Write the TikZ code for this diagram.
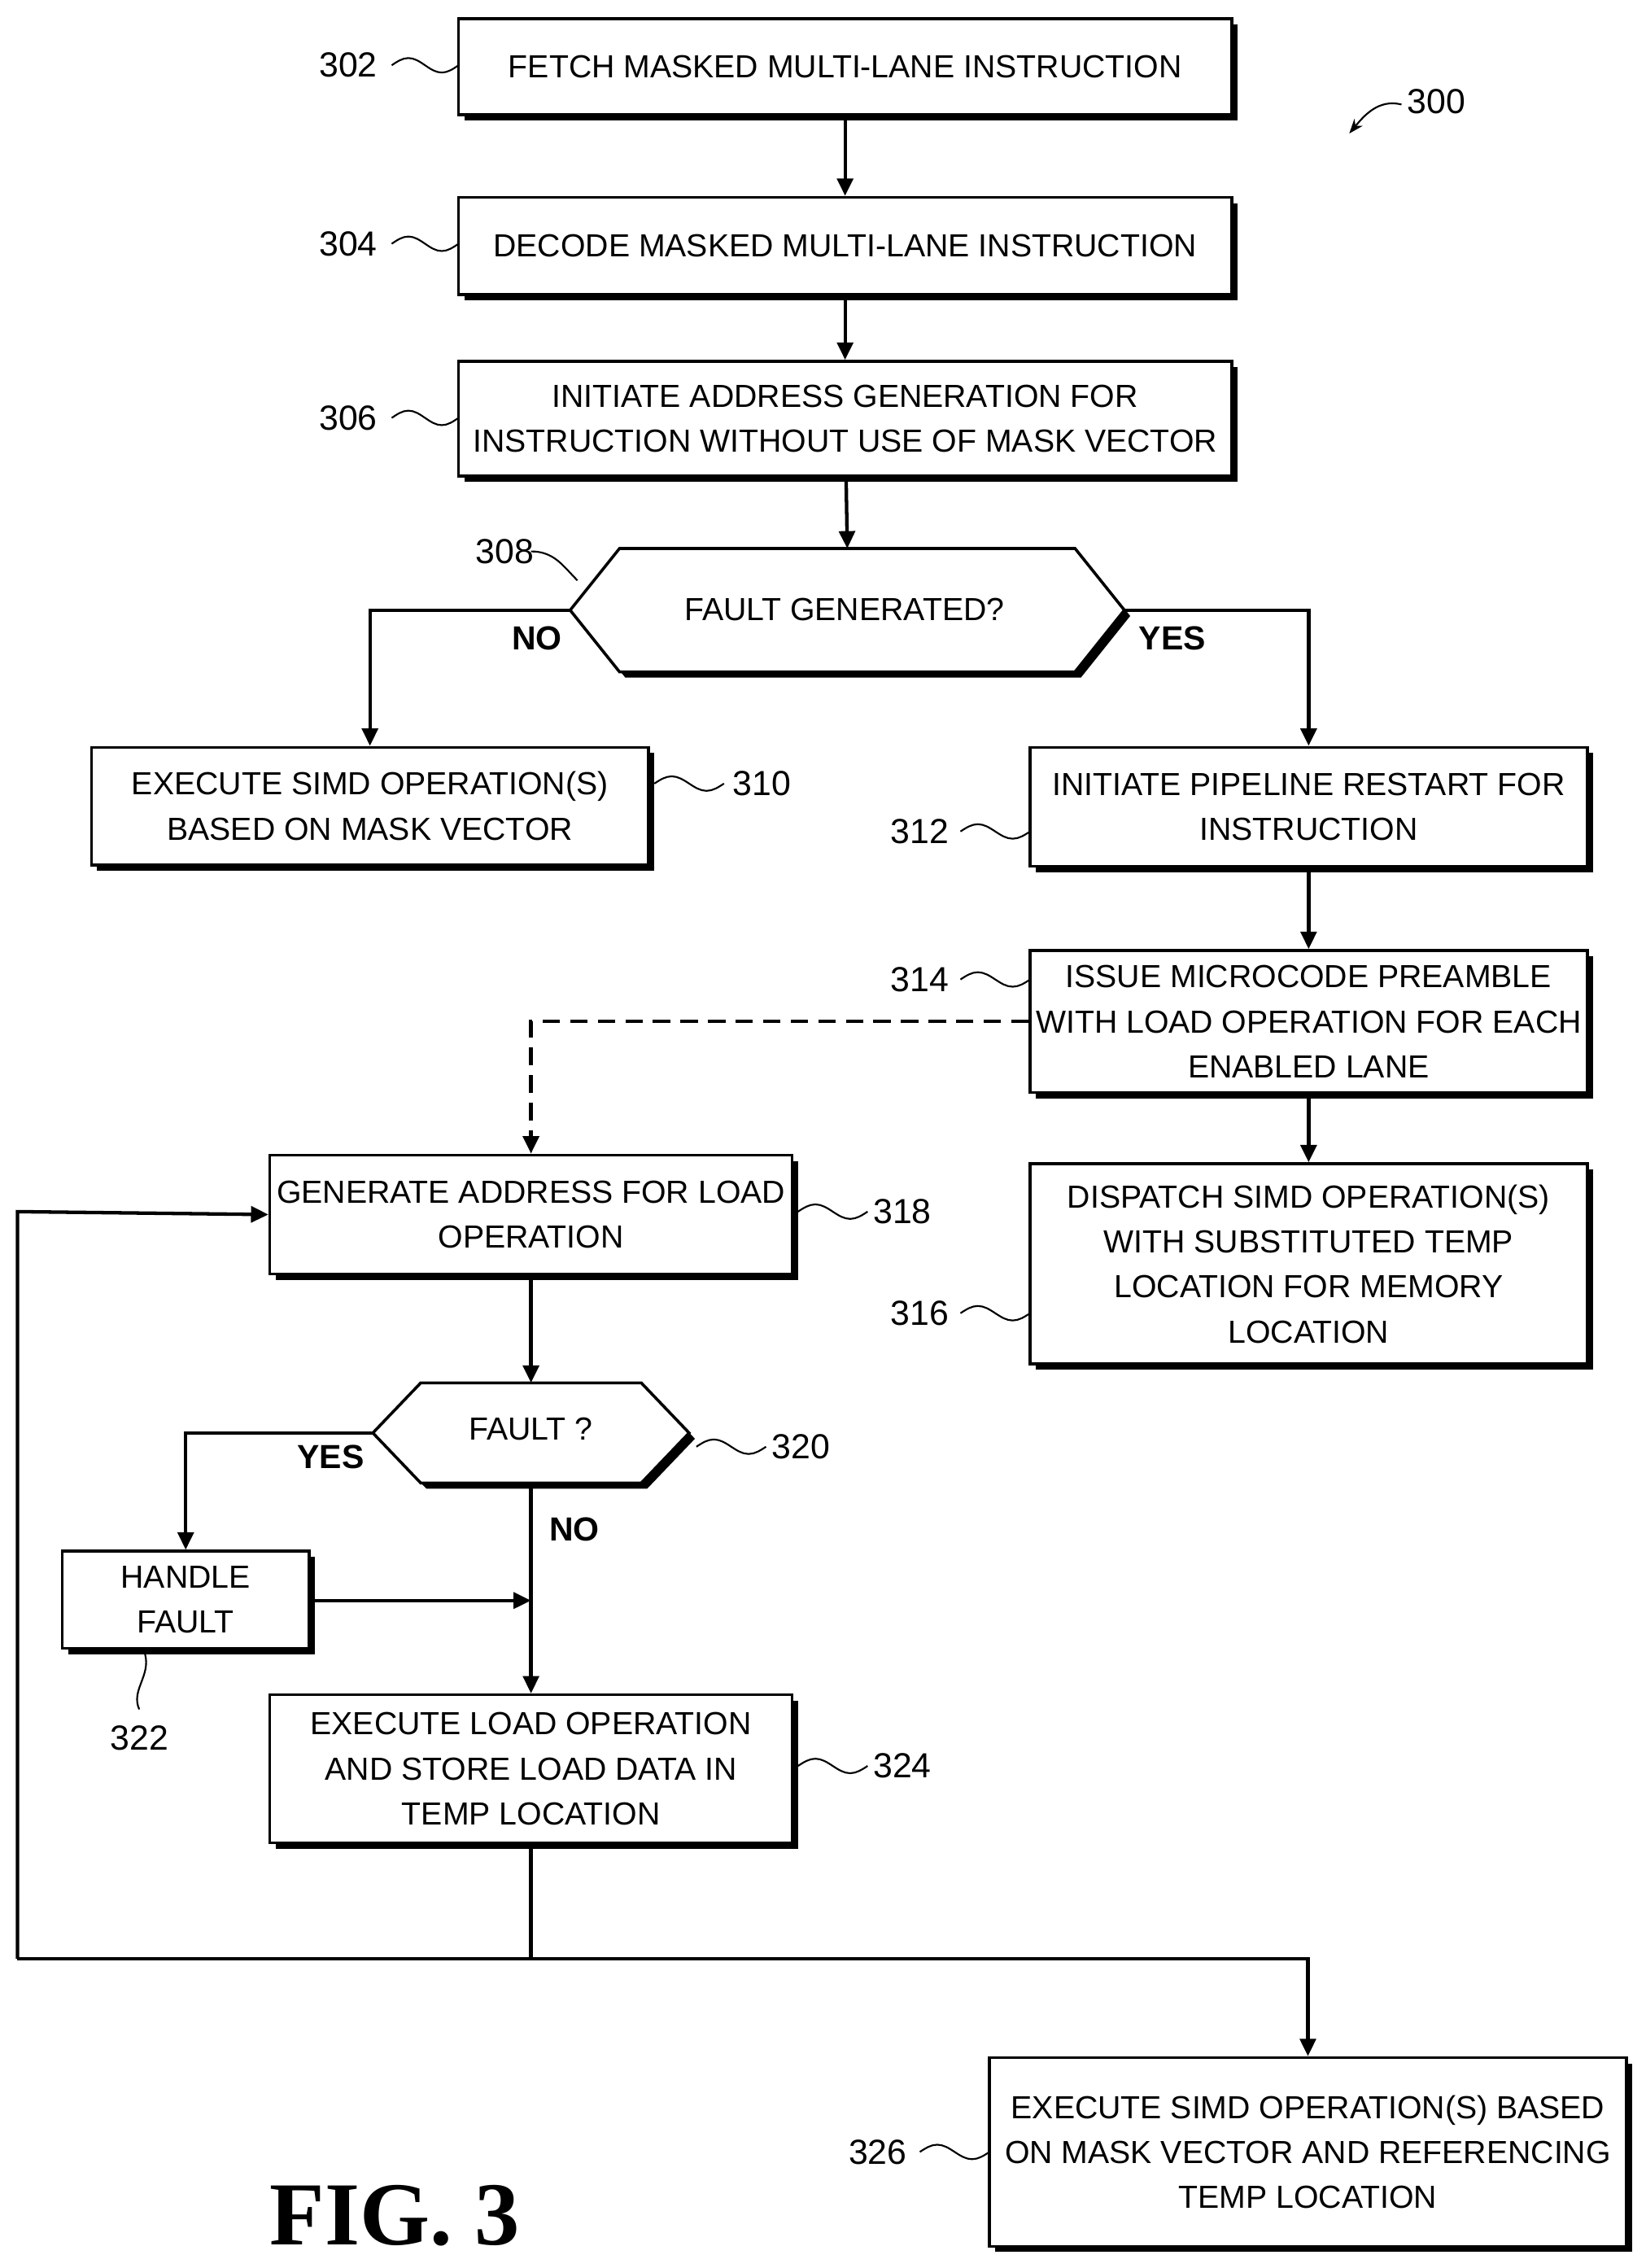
\documentclass[tikz,border=0pt]{standalone}
\usepackage{fontspec}
\setmainfont{Liberation Sans}
\usetikzlibrary{arrows.meta,shadows}
\begin{document}
\begin{tikzpicture}[x=1pt,y=-1pt,
 box/.style={draw,line width=2pt,fill=white,align=center,font=\fontsize{22}{31}\selectfont,
   drop shadow={shadow xshift=4pt,shadow yshift=-4pt,fill=black,opacity=1}},
 arr/.style={line width=2.4pt,-{Triangle[length=12pt,width=11pt]}},
 ln/.style={line width=2.4pt},
 lab/.style={font=\fontsize{24}{28}\selectfont},
 yn/.style={font=\bfseries\fontsize{23}{28}\selectfont},
 lead/.style={line width=1.2pt}]
\useasboundingbox (0,0) rectangle (1134,1563);
\newcommand\mybox[6]{\node[box,minimum width=#4-#2,minimum height=#5-#3] (#1) at ({(#2+#4)/2},{(#3+#5)/2}) {#6};}
\newcommand\hex[6]{% name, left, top, right, bottom, chamfer
 \fill[black] (#2+4,{(#3+#5)/2+4}) -- (#2+#6+4,#3+4) -- (#4-#6+4,#3+4) -- (#4+4,{(#3+#5)/2+4}) -- (#4-#6+4,#5+4) -- (#2+#6+4,#5+4) -- cycle;
 \draw[line width=2pt,fill=white] (#2,{(#3+#5)/2}) -- (#2+#6,#3) -- (#4-#6,#3) -- (#4,{(#3+#5)/2}) -- (#4-#6,#5) -- (#2+#6,#5) -- cycle;
 \coordinate (#1-w) at (#2,{(#3+#5)/2}); \coordinate (#1-e) at (#4,{(#3+#5)/2});
 \coordinate (#1-s) at ({(#2+#4)/2},#5); \coordinate (#1-n) at ({(#2+#4)/2},#3);}
\newcommand\tl[3]{\draw[lead] (#1,#2) sin ({#1+(#3-#1)/4},#2-5) cos ({#1+(#3-#1)/2},#2) sin ({#1+3*(#3-#1)/4},#2+5) cos (#3,#2);}

\mybox{b302}{316}{13}{849}{79}{FETCH MASKED MULTI-LANE INSTRUCTION}
\mybox{b304}{316}{136}{849}{203}{DECODE MASKED MULTI-LANE INSTRUCTION}
\mybox{b306}{316}{249}{849}{328}{INITIATE ADDRESS GENERATION FOR\\INSTRUCTION WITHOUT USE OF MASK VECTOR}
\hex{h308}{393}{378}{775}{463}{34}
\node[font=\fontsize{22}{26}\selectfont] (t308) at (582,420) {FAULT GENERATED?};
\mybox{b310}{63}{515}{447}{596}{EXECUTE SIMD OPERATION(S)\\BASED ON MASK VECTOR}
\mybox{b312}{710}{515}{1094}{597}{INITIATE PIPELINE RESTART FOR\\INSTRUCTION}
\mybox{b314}{710}{655}{1094}{753}{ISSUE MICROCODE PREAMBLE\\WITH LOAD OPERATION FOR EACH\\ENABLED LANE}
\mybox{b316}{710}{802}{1094}{940}{DISPATCH SIMD OPERATION(S)\\WITH SUBSTITUTED TEMP\\LOCATION FOR MEMORY\\LOCATION}
\mybox{b318}{186}{796}{546}{878}{GENERATE ADDRESS FOR LOAD\\OPERATION}
\hex{h320}{257}{953}{475}{1022}{33}
\node[font=\fontsize{22}{26}\selectfont] (t320) at (366,985) {FAULT ?};
\mybox{b322}{43}{1069}{213}{1136}{HANDLE\\FAULT}
\mybox{b324}{186}{1168}{546}{1270}{EXECUTE LOAD OPERATION\\AND STORE LOAD DATA IN\\TEMP LOCATION}
\mybox{b326}{682}{1418}{1121}{1548}{EXECUTE SIMD OPERATION(S) BASED\\ON MASK VECTOR AND REFERENCING\\TEMP LOCATION}

\draw[arr] (b302) -- (b304);
\draw[arr] (b304) -- (b306);
\draw[arr] (b306) -- (h308-n);
\draw[arr] (h308-w) -| (b310);
\draw[arr] (h308-e) -| (b312);
\draw[arr] (b312) -- (b314);
\draw[arr] (b314) -- (b316);
\draw[arr,dashed,dash pattern=on 12pt off 7pt] (b314.west) -| (b318);
\draw[arr] (b318) -- (h320-n);
\draw[arr] (h320-w) -| (b322);
\draw[arr] (h320-s) -- (b324);
\coordinate (m1) at (366,1103);
\draw[arr] (b322.east |- m1) -- (m1);
\coordinate (j) at (366,1350);
\coordinate (lc) at (12,1350);
\coordinate (lt) at (12,835);
\draw[ln] (b324.south) -- (j);
\draw[arr] (lc) -| (b326.north);
\draw[arr] (lc) -- (lt) -- (b318.west);

\node[yn] (no1) at (370,440) {NO};
\node[yn] (yes1) at (808,440) {YES};
\node[yn] (yes2) at (228,1004) {YES};
\node[yn] (no2) at (396,1054) {NO};

\node[lab] (l302) at (240,45) {302}; \tl{270}{45}{316}
\node[lab] (l304) at (240,168) {304}; \tl{270}{168}{316}
\node[lab] (l306) at (240,288) {306}; \tl{270}{288}{316}
\node[lab] (l308) at (348,380) {308}; \draw[lead] (366,380) .. controls (382,380) and (388,390) .. (398,400);
\node[lab] (l310) at (525,540) {310}; \tl{451}{540}{499}
\node[lab] (l312) at (634,573) {312}; \tl{662}{573}{710}
\node[lab] (l314) at (634,675) {314}; \tl{662}{675}{710}
\node[lab] (l316) at (634,905) {316}; \tl{662}{905}{710}
\node[lab] (l318) at (622,835) {318}; \tl{550}{835}{598}
\node[lab] (l320) at (552,997) {320}; \tl{480}{997}{528}
\node[lab] (l324) at (622,1217) {324}; \tl{550}{1217}{598}
\node[lab] (l326) at (605,1483) {326}; \tl{634}{1483}{682}
\node[lab] (l322) at (96,1198) {322}; \draw[lead] (96,1178) .. controls (90,1165) and (104,1155) .. (100,1140);
\node[lab] (l300) at (990,70) {300};
\draw[lead,-{Stealth[length=10pt]}] (966,72) .. controls (950,68) and (940,80) .. (930,92);
\node[font=\bfseries\fontsize{62}{70}\selectfont\fontspec{Liberation Serif}] (fig) at (272,1527) {FIG. 3};
\end{tikzpicture}
\end{document}
